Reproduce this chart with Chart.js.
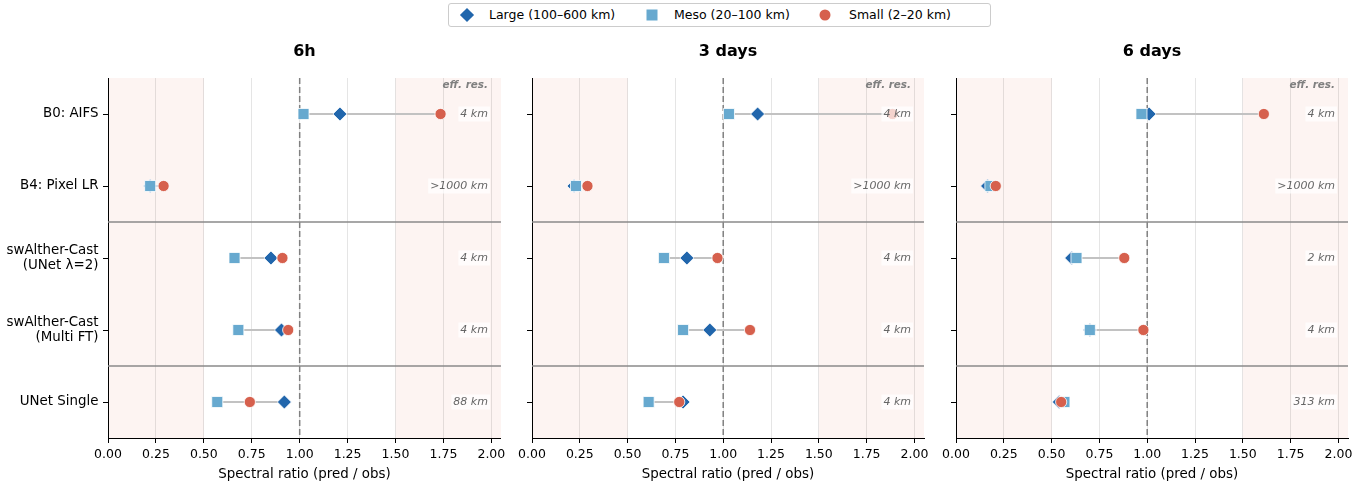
<!DOCTYPE html>
<html>
<head>
<meta charset="utf-8">
<script src="https://cdn.jsdelivr.net/npm/chart.js@4.4.0/dist/chart.umd.min.js"></script>
<style>
html,body{margin:0;padding:0;background:#fff;width:1370px;height:484px;overflow:hidden;font-family:'DejaVu Sans',sans-serif;}
.panel{position:absolute;top:30px;height:454px;}
#legend{position:absolute;left:448px;top:3px;width:541px;height:22px;border:1px solid #cccccc;border-radius:3px;font-size:12.5px;color:#000;box-sizing:content-box;}
.item{position:absolute;top:0;height:22px;line-height:22px;white-space:nowrap;}
.mk{position:absolute;top:11px;}
</style>
</head>
<body>
<div id="legend"></div>
<div class="panel" style="left:0;width:510px"><canvas id="c0" width="510" height="454"></canvas></div>
<div class="panel" style="left:510px;width:424px"><canvas id="c1" width="424" height="454"></canvas></div>
<div class="panel" style="left:934px;width:436px"><canvas id="c2" width="436" height="454"></canvas></div>
<script>
// ---------------- data ----------------
const categories = ['B0: AIFS', 'B4: Pixel LR', ['swAlther-Cast', '(UNet λ=2)'], ['swAlther-Cast', '(Multi FT)'], 'UNet Single'];
const leadTimes = ['6h', '3 days', '6 days'];
const seriesNames = ['Large (100–600 km)', 'Meso (20–100 km)', 'Small (2–20 km)'];

const large6h = [1.21, 0.22, 0.85, 0.905, 0.92];
const meso6h  = [1.02, 0.22, 0.66, 0.68, 0.57];
const small6h = [1.735, 0.29, 0.91, 0.94, 0.74];

const large3d = [1.18, 0.22, 0.81, 0.93, 0.79];
const meso3d  = [1.03, 0.23, 0.69, 0.79, 0.61];
const small3d = [1.885, 0.29, 0.97, 1.14, 0.77];

const large6d = [1.01, 0.165, 0.605, 0.70, 0.54];
const meso6d  = [0.97, 0.18, 0.63, 0.70, 0.567];
const small6d = [1.61, 0.208, 0.88, 0.98, 0.55];

const effRes6h = ['4 km', '>1000 km', '4 km', '4 km', '88 km'];
const effRes3d = ['4 km', '>1000 km', '4 km', '4 km', '4 km'];
const effRes6d = ['4 km', '>1000 km', '2 km', '4 km', '313 km'];
const effResTitle = 'eff. res.';
const axisTitle = 'Spectral ratio (pred / obs)';

// ---------------- style ----------------
const COLORS = ['#2166ac', '#67a9cf', '#d6604d'];
const STYLES = ['rectRot', 'rect', 'circle'];
const RADII = [7, 7.8, 5.6];
const FONT = "'DejaVu Sans', sans-serif";

const panels = [
  {title: leadTimes[0], large: large6h, meso: meso6h, small: small6h, eff: effRes6h, yW: 108, padR: 9, showY: true},
  {title: leadTimes[1], large: large3d, meso: meso3d, small: small3d, eff: effRes3d, yW: 22, padR: 10, showY: false},
  {title: leadTimes[2], large: large6d, meso: meso6d, small: small6d, eff: effRes6d, yW: 22, padR: 22, showY: false}
];

// ---------------- legend ----------------
(function buildLegend() {
  const lg = document.getElementById('legend');
  const mkX = [18, 203, 376], txX = [40, 225, 400];
  seriesNames.forEach((name, i) => {
    const m = document.createElement('div');
    m.className = 'mk';
    let s = 11;
    if (i === 0) { s = 10; m.style.transform = 'translate(-50%,-50%) rotate(45deg)'; }
    else { m.style.transform = 'translate(-50%,-50%)'; }
    if (i === 2) { s = 11; m.style.borderRadius = '50%'; }
    m.style.width = s + 'px'; m.style.height = s + 'px';
    m.style.left = mkX[i] + 'px';
    m.style.background = COLORS[i];
    lg.appendChild(m);
    const t = document.createElement('div');
    t.className = 'item';
    t.style.left = txX[i] + 'px';
    t.textContent = name;
    lg.appendChild(t);
  });
})();

// ---------------- decoration plugin ----------------
const decor = {
  id: 'decor',
  beforeDraw(chart, args, o) {
    const {ctx, chartArea: a, scales: {x}} = chart;
    ctx.save();
    ctx.fillStyle = o.bandColor;
    for (const [lo, hi] of o.bands) {
      const p0 = x.getPixelForValue(Math.max(lo, x.min));
      const p1 = x.getPixelForValue(Math.min(hi, x.max));
      ctx.fillRect(p0, a.top, p1 - p0, a.bottom - a.top);
    }
    ctx.restore();
  },
  beforeDatasetsDraw(chart, args, o) {
    const {ctx, chartArea: a, scales: {x, y}} = chart;
    ctx.save();
    ctx.strokeStyle = '#808080';
    ctx.lineWidth = 1.5;
    ctx.setLineDash([6, 3]);
    const px = x.getPixelForValue(o.ref);
    ctx.beginPath(); ctx.moveTo(px, a.top); ctx.lineTo(px, a.bottom); ctx.stroke();
    ctx.setLineDash([]);
    ctx.strokeStyle = '#8a8a8a';
    ctx.lineWidth = 1.3;
    for (const s of o.separators) {
      const py = y.getPixelForValue(s);
      ctx.beginPath(); ctx.moveTo(a.left, py); ctx.lineTo(a.right, py); ctx.stroke();
    }
    ctx.restore();
  },
  afterDatasetsDraw(chart, args, o) {
    const {ctx, chartArea: a, scales: {y}} = chart;
    const xr = a.right - 13;
    ctx.save();
    ctx.textAlign = 'right';
    ctx.textBaseline = 'middle';
    ctx.font = 'italic bold 10.4px ' + FONT;
    ctx.fillStyle = '#808080';
    ctx.fillText(o.header, xr, a.top + 7);
    ctx.font = 'italic 11px ' + FONT;
    o.labels.forEach((lab, i) => {
      const py = y.getPixelForValue(i);
      const w = ctx.measureText(lab).width;
      ctx.fillStyle = 'rgba(255,255,255,0.72)';
      ctx.fillRect(xr - w - 2, py - 7.5, w + 4, 15);
      ctx.fillStyle = '#666666';
      ctx.fillText(lab, xr, py);
    });
    ctx.restore();
  }
};

// ---------------- charts ----------------
panels.forEach((p, k) => {
  const series = [p.large, p.meso, p.small];
  const datasets = [];
  // connecting lines (min to max per row)
  categories.forEach((c, i) => {
    const vals = series.map(s => s[i]);
    datasets.push({
      type: 'line',
      data: [{x: Math.min(...vals), y: i}, {x: Math.max(...vals), y: i}],
      borderColor: '#c2c2c2',
      borderWidth: 2,
      pointRadius: 0,
      showLine: true,
      order: 10
    });
  });
  series.forEach((s, j) => {
    datasets.push({
      label: seriesNames[j],
      data: s.map((v, i) => ({x: v, y: i})),
      pointStyle: STYLES[j],
      pointRadius: RADII[j],
      pointBackgroundColor: COLORS[j],
      pointBorderColor: '#ffffff',
      pointBorderWidth: 0.8,
      showLine: false,
      order: 3 - j
    });
  });

  new Chart(document.getElementById('c' + k), {
    type: 'scatter',
    data: {datasets},
    plugins: [decor],
    options: {
      responsive: false,
      animation: false,
      devicePixelRatio: 1,
      layout: {padding: {top: 0, right: p.padR, bottom: 0, left: 0}},
      plugins: {
        legend: {display: false},
        tooltip: {enabled: false},
        title: {
          display: true,
          text: p.title,
          fullSize: false,
          color: '#000',
          font: {family: FONT, size: 16, weight: 'bold', lineHeight: 1.2},
          padding: {top: 12.5, bottom: 16.3}
        },
        decor: {
          bandColor: '#fdf4f2',
          bands: [[0, 0.5], [1.5, 99]],
          ref: 1.0,
          separators: [1.5, 3.5],
          labels: p.eff,
          header: effResTitle
        }
      },
      scales: {
        x: {
          type: 'linear',
          min: 0,
          max: 2.05,
          afterFit: s => { s.height = 46; },
          ticks: {
            stepSize: 0.25,
            includeBounds: false,
            padding: 4.5,
            color: '#000',
            font: {family: FONT, size: 12.5},
            maxRotation: 0,
            autoSkip: false,
            callback: v => Number(v).toFixed(2)
          },
          grid: {color: 'rgba(0,0,0,0.1)', lineWidth: 1, tickColor: '#000', tickLength: 5, drawTicks: true},
          border: {display: true, color: '#000', width: 1},
          title: {
            display: true,
            text: axisTitle,
            color: '#000',
            font: {family: FONT, size: 13.4, lineHeight: 1.2},
            padding: {top: 0, bottom: 1.5}
          }
        },
        y: {
          type: 'linear',
          min: -0.5,
          max: 4.5,
          reverse: true,
          afterFit: s => { s.width = p.yW; },
          afterBuildTicks: s => { s.ticks = categories.map((c, i) => ({value: i})); },
          ticks: {
            padding: 4.5,
            color: '#000',
            font: {family: FONT, size: 13.4, lineHeight: 1.18},
            callback: (v) => p.showY ? categories[Math.round(v)] : ''
          },
          grid: {drawOnChartArea: false, tickColor: '#000', tickLength: 5, drawTicks: true},
          border: {display: true, color: '#000', width: 1}
        }
      }
    }
  });
});
</script>
</body>
</html>
